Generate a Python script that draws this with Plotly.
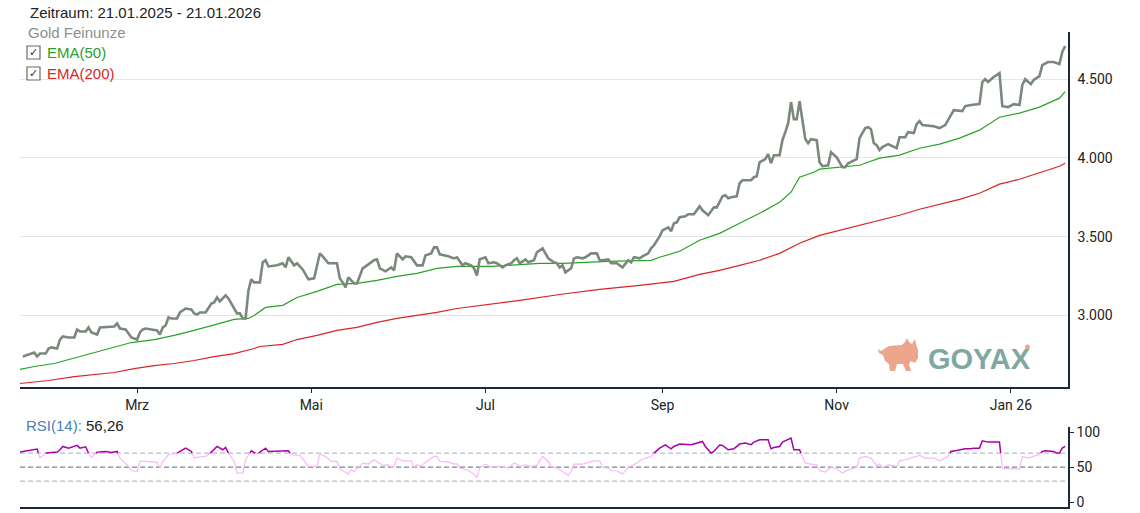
import plotly.graph_objects as go
import pandas as pd

# ---------------- data ----------------
gold_dates = [
    "2025-01-20", "2025-01-22", "2025-01-24", "2025-01-25", "2025-01-26", "2025-01-28", "2025-01-29", "2025-01-30",
    "2025-02-01", "2025-02-02", "2025-02-03", "2025-02-05", "2025-02-07", "2025-02-08", "2025-02-09", "2025-02-11",
    "2025-02-12", "2025-02-13", "2025-02-15", "2025-02-16", "2025-02-19", "2025-02-21", "2025-02-22", "2025-02-23",
    "2025-02-25", "2025-02-26", "2025-02-27", "2025-03-01", "2025-03-02", "2025-03-03", "2025-03-04", "2025-03-06",
    "2025-03-08", "2025-03-09", "2025-03-10", "2025-03-11", "2025-03-12", "2025-03-13", "2025-03-15", "2025-03-16",
    "2025-03-18", "2025-03-20", "2025-03-21", "2025-03-22", "2025-03-23", "2025-03-25", "2025-03-27", "2025-03-28",
    "2025-03-29", "2025-03-30", "2025-04-01", "2025-04-02", "2025-04-04", "2025-04-05", "2025-04-06", "2025-04-07",
    "2025-04-08", "2025-04-09", "2025-04-10", "2025-04-11", "2025-04-13", "2025-04-14", "2025-04-15", "2025-04-16",
    "2025-04-19", "2025-04-21", "2025-04-22", "2025-04-23", "2025-04-25", "2025-04-26", "2025-04-28", "2025-04-30",
    "2025-05-02", "2025-05-04", "2025-05-05", "2025-05-07", "2025-05-10", "2025-05-11", "2025-05-12", "2025-05-13",
    "2025-05-14", "2025-05-16", "2025-05-17", "2025-05-19", "2025-05-21", "2025-05-23", "2025-05-24", "2025-05-25",
    "2025-05-27", "2025-05-29", "2025-05-30", "2025-05-31", "2025-06-02", "2025-06-03", "2025-06-05", "2025-06-07",
    "2025-06-09", "2025-06-10", "2025-06-12", "2025-06-13", "2025-06-14", "2025-06-15", "2025-06-18", "2025-06-20",
    "2025-06-21", "2025-06-23", "2025-06-24", "2025-06-26", "2025-06-27", "2025-06-28", "2025-06-29", "2025-07-01",
    "2025-07-02", "2025-07-04", "2025-07-05", "2025-07-07", "2025-07-08", "2025-07-10", "2025-07-11", "2025-07-12",
    "2025-07-13", "2025-07-15", "2025-07-16", "2025-07-18", "2025-07-19", "2025-07-21", "2025-07-22", "2025-07-23",
    "2025-07-25", "2025-07-26", "2025-07-27", "2025-07-28", "2025-07-29", "2025-07-31", "2025-08-01", "2025-08-02",
    "2025-08-04", "2025-08-05", "2025-08-07", "2025-08-09", "2025-08-10", "2025-08-11", "2025-08-13", "2025-08-14",
    "2025-08-16", "2025-08-18", "2025-08-20", "2025-08-21", "2025-08-22", "2025-08-24", "2025-08-25", "2025-08-27",
    "2025-08-28", "2025-08-29", "2025-08-31", "2025-09-01", "2025-09-03", "2025-09-04", "2025-09-05", "2025-09-06",
    "2025-09-07", "2025-09-09", "2025-09-10", "2025-09-12", "2025-09-14", "2025-09-15", "2025-09-17", "2025-09-19",
    "2025-09-20", "2025-09-22", "2025-09-23", "2025-09-24", "2025-09-25", "2025-09-27", "2025-09-28", "2025-09-29",
    "2025-10-02", "2025-10-03", "2025-10-04", "2025-10-05", "2025-10-07", "2025-10-08", "2025-10-09", "2025-10-10",
    "2025-10-12", "2025-10-13", "2025-10-14", "2025-10-15", "2025-10-16", "2025-10-17", "2025-10-18", "2025-10-19",
    "2025-10-20", "2025-10-21", "2025-10-22", "2025-10-23", "2025-10-25", "2025-10-26", "2025-10-27", "2025-10-29",
    "2025-10-30", "2025-10-31", "2025-11-01", "2025-11-03", "2025-11-04", "2025-11-05", "2025-11-07", "2025-11-08",
    "2025-11-09", "2025-11-11", "2025-11-12", "2025-11-13", "2025-11-14", "2025-11-15", "2025-11-16", "2025-11-17",
    "2025-11-19", "2025-11-21", "2025-11-22", "2025-11-23", "2025-11-25", "2025-11-26", "2025-11-28", "2025-11-29",
    "2025-11-30", "2025-12-01", "2025-12-05", "2025-12-07", "2025-12-09", "2025-12-11", "2025-12-12", "2025-12-15",
    "2025-12-16", "2025-12-18", "2025-12-21", "2025-12-22", "2025-12-23", "2025-12-24", "2025-12-26", "2025-12-28",
    "2025-12-29", "2025-12-31", "2026-01-02", "2026-01-04", "2026-01-05", "2026-01-06", "2026-01-08", "2026-01-09",
    "2026-01-11", "2026-01-12", "2026-01-14", "2026-01-16", "2026-01-18", "2026-01-19", "2026-01-20",
]
gold_values = [
    2739, 2752, 2765, 2739, 2758, 2758, 2790, 2797,
    2790, 2847, 2867, 2860, 2860, 2911, 2898, 2898,
    2924, 2892, 2879, 2924, 2930, 2930, 2949, 2917,
    2911, 2886, 2860, 2847, 2892, 2911, 2917, 2911,
    2905, 2879, 2924, 2936, 2987, 2981, 2981, 3019,
    3044, 3038, 3013, 3006, 3019, 3019, 3076, 3083,
    3114, 3089, 3127, 3108, 3038, 3013, 3013, 2981,
    2981, 3159, 3229, 3210, 3210, 3337, 3350, 3311,
    3318, 3331, 3305, 3369, 3318, 3331, 3292, 3229,
    3235, 3394, 3375, 3331, 3331, 3235, 3210, 3178,
    3242, 3203, 3203, 3299, 3324, 3350, 3356, 3299,
    3280, 3305, 3286, 3394, 3356, 3375, 3369, 3318,
    3318, 3381, 3394, 3432, 3432, 3388, 3375, 3362,
    3369, 3318, 3331, 3318, 3299, 3254, 3356, 3369,
    3331, 3337, 3331, 3305, 3318, 3331, 3350, 3362,
    3331, 3356, 3337, 3350, 3400, 3426, 3394, 3362,
    3337, 3331, 3305, 3318, 3273, 3299, 3362, 3369,
    3362, 3369, 3394, 3394, 3350, 3350, 3356, 3331,
    3331, 3305, 3350, 3337, 3369, 3362, 3375, 3394,
    3426, 3445, 3502, 3540, 3559, 3534, 3585, 3591,
    3623, 3629, 3642, 3642, 3693, 3667, 3636, 3686,
    3686, 3756, 3763, 3744, 3750, 3756, 3839, 3858,
    3858, 3877, 3883, 3972, 3992, 4023, 3966, 4017,
    4017, 4112, 4163, 4220, 4354, 4246, 4246, 4360,
    4239, 4119, 4093, 4119, 4112, 3972, 3947, 3953,
    4036, 4017, 4004, 3941, 3941, 3966, 3985, 3992,
    4125, 4189, 4195, 4182, 4093, 4081, 4049, 4068,
    4087, 4068, 4061, 4131, 4131, 4163, 4157, 4214,
    4233, 4208, 4201, 4189, 4208, 4271, 4303, 4297,
    4328, 4335, 4341, 4481, 4500, 4481, 4513, 4538,
    4328, 4322, 4341, 4335, 4462, 4500, 4468, 4494,
    4519, 4589, 4608, 4608, 4595, 4672, 4710,
]

ema50_dates = [
    "2025-01-19", "2025-01-24", "2025-01-31", "2025-02-08", "2025-02-14", "2025-02-21", "2025-02-27", "2025-03-07",
    "2025-03-14", "2025-03-21", "2025-03-29", "2025-04-04", "2025-04-09", "2025-04-11", "2025-04-15", "2025-04-21",
    "2025-04-26", "2025-05-03", "2025-05-10", "2025-05-17", "2025-05-24", "2025-05-31", "2025-06-07", "2025-06-14",
    "2025-06-21", "2025-07-03", "2025-07-20", "2025-07-28", "2025-08-13", "2025-08-28", "2025-08-31", "2025-09-07",
    "2025-09-14", "2025-09-21", "2025-09-28", "2025-10-05", "2025-10-12", "2025-10-16", "2025-10-19", "2025-10-24",
    "2025-10-26", "2025-11-02", "2025-11-09", "2025-11-16", "2025-11-23", "2025-11-30", "2025-12-07", "2025-12-14",
    "2025-12-21", "2025-12-28", "2026-01-04", "2026-01-11", "2026-01-18", "2026-01-20",
]
ema50_values = [
    2657, 2676, 2695, 2733, 2765, 2797, 2828, 2847,
    2873, 2905, 2943, 2975, 2981, 3000, 3051, 3064,
    3114, 3153, 3197, 3203, 3222, 3248, 3267, 3299,
    3311, 3311, 3331, 3331, 3343, 3350, 3369, 3407,
    3477, 3521, 3585, 3648, 3718, 3782, 3877, 3909,
    3928, 3941, 3953, 3998, 4017, 4061, 4087, 4125,
    4176, 4258, 4284, 4322, 4379, 4420,
]

ema200_dates = [
    "2025-01-19", "2025-01-29", "2025-02-07", "2025-02-14", "2025-02-21", "2025-02-28", "2025-03-07", "2025-03-14",
    "2025-03-21", "2025-03-28", "2025-04-04", "2025-04-11", "2025-04-13", "2025-04-21", "2025-04-26", "2025-05-03",
    "2025-05-10", "2025-05-17", "2025-05-24", "2025-05-31", "2025-06-07", "2025-06-14", "2025-06-21", "2025-07-03",
    "2025-07-13", "2025-07-27", "2025-08-10", "2025-08-24", "2025-09-05", "2025-09-14", "2025-09-21", "2025-09-28",
    "2025-10-05", "2025-10-12", "2025-10-19", "2025-10-26", "2025-11-02", "2025-11-09", "2025-11-16", "2025-11-23",
    "2025-11-30", "2025-12-07", "2025-12-14", "2025-12-21", "2025-12-28", "2026-01-04", "2026-01-11", "2026-01-18",
    "2026-01-20",
]
ema200_values = [
    2568, 2587, 2612, 2625, 2638, 2663, 2682, 2695,
    2714, 2739, 2758, 2790, 2803, 2816, 2847, 2873,
    2905, 2924, 2956, 2981, 3000, 3019, 3044, 3070,
    3095, 3133, 3165, 3191, 3216, 3261, 3286, 3318,
    3350, 3394, 3458, 3508, 3540, 3572, 3604, 3636,
    3674, 3706, 3737, 3775, 3833, 3864, 3903, 3947,
    3966,
]

rsi_dates = [
    "2025-01-19", "2025-01-23", "2025-01-25", "2025-01-26", "2025-01-28", "2025-02-01", "2025-02-02", "2025-02-03",
    "2025-02-05", "2025-02-08", "2025-02-09", "2025-02-11", "2025-02-12", "2025-02-13", "2025-02-15", "2025-02-18",
    "2025-02-20", "2025-02-22", "2025-02-23", "2025-02-26", "2025-02-27", "2025-03-01", "2025-03-02", "2025-03-04",
    "2025-03-08", "2025-03-09", "2025-03-10", "2025-03-12", "2025-03-15", "2025-03-18", "2025-03-20", "2025-03-21",
    "2025-03-22", "2025-03-25", "2025-03-27", "2025-03-29", "2025-03-31", "2025-04-01", "2025-04-02", "2025-04-04",
    "2025-04-05", "2025-04-07", "2025-04-08", "2025-04-10", "2025-04-12", "2025-04-15", "2025-04-16", "2025-04-21",
    "2025-04-23", "2025-04-24", "2025-04-27", "2025-04-30", "2025-05-03", "2025-05-04", "2025-05-06", "2025-05-08",
    "2025-05-10", "2025-05-11", "2025-05-12", "2025-05-14", "2025-05-15", "2025-05-16", "2025-05-19", "2025-05-21",
    "2025-05-23", "2025-05-26", "2025-05-28", "2025-05-29", "2025-05-30", "2025-05-31", "2025-06-02", "2025-06-05",
    "2025-06-06", "2025-06-07", "2025-06-08", "2025-06-11", "2025-06-13", "2025-06-14", "2025-06-15", "2025-06-18",
    "2025-06-20", "2025-06-21", "2025-06-22", "2025-06-25", "2025-06-27", "2025-06-28", "2025-06-29", "2025-07-01",
    "2025-07-03", "2025-07-06", "2025-07-09", "2025-07-11", "2025-07-12", "2025-07-13", "2025-07-15", "2025-07-17",
    "2025-07-19", "2025-07-21", "2025-07-23", "2025-07-24", "2025-07-26", "2025-07-28", "2025-07-30", "2025-07-31",
    "2025-08-01", "2025-08-04", "2025-08-06", "2025-08-08", "2025-08-10", "2025-08-11", "2025-08-13", "2025-08-14",
    "2025-08-16", "2025-08-18", "2025-08-20", "2025-08-22", "2025-08-23", "2025-08-24", "2025-08-26", "2025-08-28",
    "2025-08-29", "2025-08-31", "2025-09-02", "2025-09-04", "2025-09-05", "2025-09-07", "2025-09-11", "2025-09-13",
    "2025-09-15", "2025-09-16", "2025-09-18", "2025-09-19", "2025-09-21", "2025-09-22", "2025-09-24", "2025-09-26",
    "2025-09-28", "2025-09-30", "2025-10-02", "2025-10-03", "2025-10-05", "2025-10-08", "2025-10-09", "2025-10-10",
    "2025-10-12", "2025-10-13", "2025-10-16", "2025-10-17", "2025-10-19", "2025-10-20", "2025-10-21", "2025-10-23",
    "2025-10-25", "2025-10-26", "2025-10-28", "2025-10-30", "2025-11-01", "2025-11-03", "2025-11-05", "2025-11-08",
    "2025-11-09", "2025-11-11", "2025-11-13", "2025-11-15", "2025-11-16", "2025-11-17", "2025-11-19", "2025-11-22",
    "2025-11-23", "2025-11-25", "2025-11-27", "2025-11-30", "2025-12-02", "2025-12-05", "2025-12-07", "2025-12-10",
    "2025-12-11", "2025-12-13", "2025-12-16", "2025-12-18", "2025-12-19", "2025-12-21", "2025-12-22", "2025-12-24",
    "2025-12-25", "2025-12-28", "2025-12-29", "2026-01-01", "2026-01-04", "2026-01-05", "2026-01-07", "2026-01-10",
    "2026-01-11", "2026-01-12", "2026-01-13", "2026-01-16", "2026-01-17", "2026-01-18", "2026-01-19", "2026-01-20",
]
rsi_values = [
    71.4, 74.8, 75.7, 62.9, 70.0, 71.4, 74.8, 79.5,
    77.1, 81.0, 77.1, 79.0, 70.0, 63.8, 71.4, 72.4,
    71.0, 72.4, 62.9, 51.0, 44.8, 43.8, 58.1, 58.1,
    57.1, 48.6, 58.1, 67.6, 70.0, 77.1, 72.4, 62.9,
    63.8, 65.2, 71.4, 79.5, 74.8, 78.0, 70.0, 58.1,
    41.4, 41.4, 60.5, 73.3, 68.6, 77.1, 72.4, 72.4,
    73.3, 67.6, 66.7, 51.0, 51.0, 68.6, 65.2, 58.1,
    58.1, 47.6, 44.8, 40.0, 46.2, 43.8, 55.7, 54.3,
    60.5, 52.4, 53.3, 50.0, 51.0, 62.9, 59.0, 59.0,
    49.5, 53.3, 51.0, 59.0, 65.2, 65.2, 58.1, 57.1,
    54.3, 54.8, 48.6, 45.2, 40.0, 35.2, 48.6, 54.3,
    49.5, 51.0, 48.6, 55.7, 54.3, 51.0, 53.3, 51.0,
    52.4, 65.2, 58.1, 51.0, 48.6, 43.8, 38.1, 43.8,
    54.3, 54.3, 57.1, 59.0, 59.0, 49.5, 48.6, 44.8,
    44.8, 40.0, 49.5, 53.3, 55.7, 59.0, 62.9, 65.2,
    70.0, 77.1, 81.9, 76.2, 79.5, 82.9, 81.9, 84.3,
    86.7, 79.5, 70.0, 72.4, 81.5, 81.0, 74.8, 76.2,
    82.9, 84.3, 81.9, 85.7, 89.0, 89.0, 76.2, 78.0,
    79.5, 85.7, 91.4, 74.8, 74.8, 65.2, 55.7, 54.3,
    53.3, 44.8, 42.9, 49.5, 47.6, 41.4, 46.2, 49.5,
    62.9, 65.2, 62.9, 52.4, 54.3, 49.5, 53.3, 51.0,
    59.0, 60.5, 62.9, 66.7, 62.9, 62.9, 59.0, 65.2,
    72.4, 73.8, 76.2, 76.2, 77.1, 77.1, 87.6, 85.7,
    85.7, 85.7, 48.6, 47.6, 47.6, 65.2, 62.9, 66.7,
    67.6, 72.4, 73.3, 72.4, 70.0, 70.0, 77.1, 79.5,
]

period_text = "Zeitraum: 21.01.2025 - 21.01.2026"
series_names = ["Gold Feinunze", "EMA(50)", "EMA(200)"]
rsi_label = "RSI(14):"
rsi_last = "56,26"
month_ticks = ["2025-03-01", "2025-05-01", "2025-07-01", "2025-09-01", "2025-11-01", "2026-01-01"]
month_labels = ["Mrz", "Mai", "Jul", "Sep", "Nov", "Jan 26"]
price_ticks = [3000, 3500, 4000, 4500]
rsi_ticks = [0, 50, 100]
rsi_levels = [30, 50, 70]
rsi_overbought = 70

# ---------------- styling / layout constants ----------------
W, H = 1140, 513
PLOT_L, PLOT_R = 20, 1068
MAIN_TOP, MAIN_BOT = 31.8, 386.5
RSI_TOP, RSI_BOT = 427.2, 507.0
X_RANGE = ["2025-01-19", "2026-01-21"]
PRICE_RANGE = [2549, 4800]
RSI_RANGE = [-7, 107]

C_GOLD = "#7b887c"
C_EMA50 = "#26a326"
C_EMA200 = "#dc2424"
C_RSI_HI = "#aa00aa"
C_RSI_LO = "#f8b8f8"
C_AXIS = "#1c2838"
C_TEXT = "#222222"
FONT_TXT = "Liberation Sans, Arial, sans-serif"
FONT_TICK = "Roboto, Liberation Sans, sans-serif"


def px_x(p):
    return p / W


def px_y(p):
    return 1 - p / H


# split RSI line into above / below threshold parts (crossings interpolated)
def split_threshold(dates, vals, thr):
    ts = list(pd.to_datetime(dates))
    parts = {"hi": ([], []), "lo": ([], [])}

    def add(key, sx, sy):
        xs, ys = parts[key]
        if xs and xs[-1] is not None and xs[-1] == sx[0]:
            xs.append(sx[1]); ys.append(sy[1])
        else:
            if xs:
                xs.append(None); ys.append(None)
            xs.extend(sx); ys.extend(sy)

    for i in range(1, len(vals)):
        t0, t1, v0, v1 = ts[i - 1], ts[i], vals[i - 1], vals[i]
        if (v0 - thr) * (v1 - thr) < 0:
            tc = t0 + (t1 - t0) * ((thr - v0) / (v1 - v0))
            segs = [((t0, tc), (v0, thr)), ((tc, t1), (thr, v1))]
        else:
            segs = [((t0, t1), (v0, v1))]
        for sx, sy in segs:
            key = "hi" if (sy[0] + sy[1]) / 2 >= thr else "lo"
            add(key, list(sx), list(sy))
    return parts


fig = go.Figure()

fig.add_trace(go.Scatter(x=ema200_dates, y=ema200_values, mode="lines",
                         line=dict(color=C_EMA200, width=1.2), xaxis="x", yaxis="y",
                         name=series_names[2], hoverinfo="skip"))
fig.add_trace(go.Scatter(x=ema50_dates, y=ema50_values, mode="lines",
                         line=dict(color=C_EMA50, width=1.2), xaxis="x", yaxis="y",
                         name=series_names[1], hoverinfo="skip"))
fig.add_trace(go.Scatter(x=gold_dates, y=gold_values, mode="lines",
                         line=dict(color=C_GOLD, width=2.6), xaxis="x", yaxis="y",
                         name=series_names[0], hoverinfo="skip"))

parts = split_threshold(rsi_dates, rsi_values, rsi_overbought)
fig.add_trace(go.Scatter(x=parts["lo"][0], y=parts["lo"][1], mode="lines",
                         line=dict(color=C_RSI_LO, width=1.2), xaxis="x2", yaxis="y2",
                         hoverinfo="skip", connectgaps=False))
fig.add_trace(go.Scatter(x=parts["hi"][0], y=parts["hi"][1], mode="lines",
                         line=dict(color=C_RSI_HI, width=1.5), xaxis="x2", yaxis="y2",
                         hoverinfo="skip", connectgaps=False))

shapes = []
# RSI reference levels
for lvl in rsi_levels:
    shapes.append(dict(type="line", xref="paper", yref="y2",
                       x0=px_x(PLOT_L), x1=px_x(PLOT_R), y0=lvl, y1=lvl,
                       line=dict(color="#7a838e" if lvl == 50 else "#b6bdcb",
                                 width=1.2, dash="5px,3px"), layer="below"))

# legend checkboxes
for cy in (52.5, 73.5):
    shapes.append(dict(type="rect", xref="paper", yref="paper",
                       x0=px_x(27), x1=px_x(40), y0=px_y(cy + 6.5), y1=px_y(cy - 6.5),
                       line=dict(color="#6a6a6a", width=1.2), fillcolor="white"))

# logo bull silhouette (decoration)
bull_px = [(884, 349), (889, 346), (902, 345), (905, 342), (907, 338), (909, 342), (912, 344),
           (915, 339), (916, 344), (918, 350), (918, 358), (915, 363), (911, 361), (909, 364),
           (911, 371), (906, 371), (903, 364), (897, 364), (895, 371), (890, 371), (889, 364),
           (885, 361), (883, 355), (879, 353), (878, 349), (881, 351)]
path = "M " + " L ".join(f"{px_x(a):.5f},{px_y(b):.5f}" for a, b in bull_px) + " Z"
shapes.append(dict(type="path", xref="paper", yref="paper", path=path,
                   fillcolor="#eba68b", line=dict(width=0)))
shapes.append(dict(type="circle", xref="paper", yref="paper",
                   x0=px_x(1025), x1=px_x(1030), y0=px_y(349.5), y1=px_y(344.5),
                   fillcolor="#eba68b", line=dict(width=0)))

annotations = [
    dict(text=period_text, x=px_x(28), y=px_y(12.5), font=dict(size=15, color=C_TEXT, family=FONT_TXT)),
    dict(text=series_names[0], x=px_x(26), y=px_y(32), font=dict(size=15, color="#8b918b", family=FONT_TXT)),
    dict(text=series_names[1], x=px_x(45), y=px_y(52), font=dict(size=15, color="#2ca02c", family=FONT_TXT)),
    dict(text=series_names[2], x=px_x(45), y=px_y(73), font=dict(size=15, color="#d62728", family=FONT_TXT)),
    dict(text="✓", x=px_x(33.5), y=px_y(52.5), xanchor="center",
         font=dict(size=11, color="#333333", family="DejaVu Sans")),
    dict(text="✓", x=px_x(33.5), y=px_y(73.5), xanchor="center",
         font=dict(size=11, color="#333333", family="DejaVu Sans")),
    dict(text=f"<span style='color:#4a7fb8'>{rsi_label}</span> {rsi_last}",
         x=px_x(24), y=px_y(425), font=dict(size=15, color=C_TEXT, family=FONT_TXT)),
    dict(text="<b>GOYAX</b>", x=px_x(926), y=px_y(359), font=dict(size=29, color="#80a7a2", family=FONT_TXT)),
]
for a in annotations:
    a.setdefault("xanchor", "left")
    a.update(xref="paper", yref="paper", yanchor="middle", showarrow=False)

fig.update_layout(
    width=W, height=H, autosize=False,
    margin=dict(l=0, r=0, t=0, b=0, pad=0),
    paper_bgcolor="white", plot_bgcolor="white",
    showlegend=False, separators=",.",
    shapes=shapes, annotations=annotations,
    xaxis=dict(domain=[px_x(PLOT_L), px_x(PLOT_R)], anchor="y", type="date", range=X_RANGE,
               tickvals=month_ticks, ticktext=month_labels, ticks="outside", ticklen=5,
               tickcolor=C_AXIS, showline=True, linecolor=C_AXIS, linewidth=1.5,
               showgrid=False, zeroline=False, automargin=False,
               tickfont=dict(size=14, color=C_TEXT, family=FONT_TICK)),
    yaxis=dict(domain=[px_y(MAIN_BOT), px_y(MAIN_TOP)], anchor="x", side="right", range=PRICE_RANGE,
               tickvals=price_ticks, tickformat=",.0f", ticks="outside", ticklen=5,
               tickcolor="rgba(0,0,0,0)", showline=True, linecolor=C_AXIS, linewidth=1.5,
               showgrid=True, gridcolor="#e6e6e6", gridwidth=1, zeroline=False, automargin=False,
               tickfont=dict(size=14, color=C_TEXT, family=FONT_TICK)),
    xaxis2=dict(domain=[px_x(PLOT_L), px_x(PLOT_R)], anchor="y2", type="date", range=X_RANGE,
                matches="x", showticklabels=False, ticks="", showline=True, linecolor=C_AXIS,
                linewidth=1.5, showgrid=False, zeroline=False, automargin=False),
    yaxis2=dict(domain=[px_y(RSI_BOT), px_y(RSI_TOP)], anchor="x2", side="right", range=RSI_RANGE,
                tickvals=rsi_ticks, ticks="outside", ticklen=4, tickcolor=C_AXIS,
                showline=True, linecolor=C_AXIS, linewidth=1.5, showgrid=False, zeroline=False,
                automargin=False, tickfont=dict(size=14, color=C_TEXT, family=FONT_TICK)),
)

fig.write_html("out.html", config={"displayModeBar": False})

# remove the default page margin so the figure starts at the window's corner
with open("out.html", "r", encoding="utf-8") as f:
    html = f.read()
html = html.replace("<head>", "<head><style>html,body{margin:0;padding:0;overflow:hidden;}</style>", 1)
with open("out.html", "w", encoding="utf-8") as f:
    f.write(html)
